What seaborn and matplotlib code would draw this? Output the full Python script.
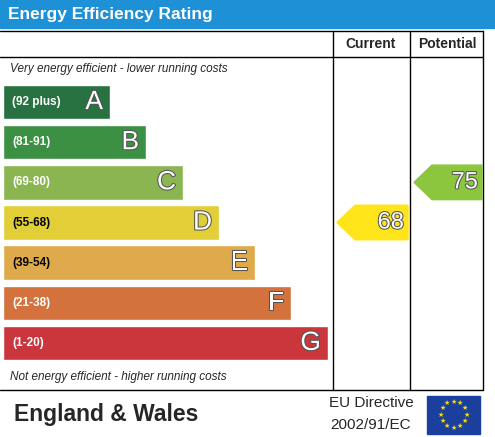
import matplotlib
matplotlib.use("Agg")
import matplotlib.pyplot as plt
import matplotlib.patheffects as pe
import seaborn as sns
import pandas as pd
import numpy as np
from matplotlib.patches import Polygon, Rectangle

bands = ["A", "B", "C", "D", "E", "F", "G"]
ranges = ["(92 plus)", "(81-91)", "(69-80)", "(55-68)", "(39-54)", "(21-38)", "(1-20)"]
widths = [107, 143, 180, 216, 252, 288, 325]
colors = ["#1a7f3c", "#2e9e37", "#8cc63f", "#ffe419", "#f8b133", "#ec6b24", "#e31d25"]
current = 68
potential = 75
current_band = "D"
potential_band = "C"

sns.set_theme(style="white")
plt.rcParams['font.family'] = ['Liberation Sans', 'DejaVu Sans']
W, H = 495, 437
fig = plt.figure(figsize=(W/100, H/100), dpi=100)
ax = fig.add_axes([0, 0, 1, 1])
ax.set_xlim(0, W); ax.set_ylim(H, 0); ax.axis("off")

ax.add_patch(Rectangle((0, 0), 495, 28, color="#1e90d6"))
ax.text(8, 14, "Energy Efficiency Rating", color="white", fontsize=12.5, fontweight="bold", va="center")

for (x0, y0, x1, y1) in [(0, 31, 483, 31), (0, 57, 483, 57), (0, 390, 483, 390),
                         (333, 31, 333, 390), (410, 31, 410, 390), (483, 31, 483, 390)]:
    ax.plot([x0, x1], [y0, y1], color="black", lw=1)
ax.text(371, 44, "Current", fontsize=10, fontweight="bold", ha="center", va="center")
ax.text(447, 44, "Potential", fontsize=10, fontweight="bold", ha="center", va="center")
ax.text(10, 69, "Very energy efficient - lower running costs", fontsize=8.5, style="italic", va="center")
ax.text(10, 377, "Not energy efficient - higher running costs", fontsize=8.5, style="italic", va="center")

top, bot = 82, 363
bax = fig.add_axes([0, 1 - bot/H, 1, (bot-top)/H])
df = pd.DataFrame({"band": bands, "w": widths})
sns.barplot(data=df, y="band", x="w", hue="band", palette=colors, orient="h",
            width=0.86, ax=bax, legend=False, left=3)
bax.set_xlim(0, W); bax.axis("off")
stroke = [pe.withStroke(linewidth=1.5, foreground="#555")]
for i, (b, r, w) in enumerate(zip(bands, ranges, widths)):
    tc = "black" if b in ("D", "E") else "white"
    bax.text(12, i, r, fontsize=8.5, fontweight="bold", color=tc, va="center")
    bax.text(3 + w - 7, i, b, fontsize=19, color="white", va="center", ha="right", path_effects=stroke)
bax.set_ylim(6.5, -0.5)

def arrow(x0, x1, band, val, col):
    cy = bands.index(band)
    h = 0.43
    pts = [(x0, cy), (x0 + 18, cy - h), (x1, cy - h), (x1, cy + h), (x0 + 18, cy + h)]
    bax.add_patch(Polygon(pts, closed=True, color=col))
    bax.text(x1 - 4, cy, str(val), fontsize=17, color="white", ha="right", va="center", path_effects=stroke)
arrow(337, 408, current_band, current, colors[bands.index(current_band)])
arrow(414, 482, potential_band, potential, colors[bands.index(potential_band)])

ax.text(14, 414, "England & Wales", fontsize=16.5, fontweight="bold", va="center")
ax.text(371, 403, "EU Directive", fontsize=11, ha="center", va="center")
ax.text(371, 425, "2002/91/EC", fontsize=11, ha="center", va="center")
ax.add_patch(Rectangle((427, 396), 53, 38, color="#1a3f9c"))
for a in np.linspace(0, 2*np.pi, 13)[:-1]:
    ax.text(453.5 + 13*np.cos(a), 415 + 13*np.sin(a), "★", color="#ffdd00", fontsize=5, ha="center", va="center")

fig.savefig("out.png", dpi=100)
